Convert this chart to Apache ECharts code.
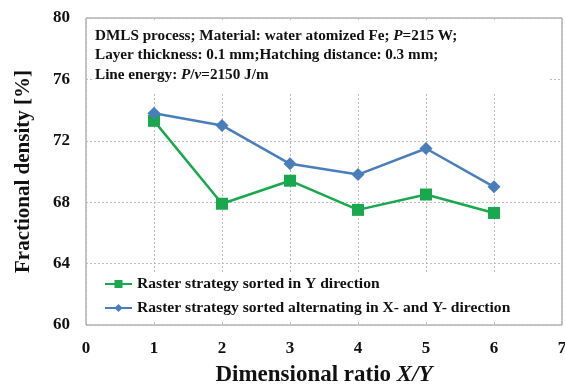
<!DOCTYPE html>
<html>
<head>
<meta charset="utf-8">
<script src="https://cdn.jsdelivr.net/npm/echarts@6/dist/echarts.min.js"></script>
<style>
  html, body { margin: 0; padding: 0; background: #fff; }
  #chart { width: 565px; height: 388px; }
</style>
</head>
<body>
<div id="chart"></div>
<script>
const ratios = [1, 2, 3, 4, 5, 6];
const sortedY = [73.3, 67.9, 69.4, 67.5, 68.5, 67.3];
const alternating = [73.8, 73.0, 70.5, 69.8, 71.5, 69.0];
const seriesNames = [
  "Raster strategy sorted in Y direction",
  "Raster strategy sorted alternating in X- and Y- direction"
];

const serif = "Liberation Serif";
const green = "#1aa84f";
const blue = "#4a7ebb";

const chart = echarts.init(document.getElementById("chart"));

const gridLine = { show: true, lineStyle: { color: "#bcbcbc", type: [2, 2], width: 1 } };

chart.setOption({
  backgroundColor: "#fff",
  animation: false,
  grid: {
    left: 86, right: 3, top: 18, bottom: 63,
    outerBoundsMode: "none",
    show: true, borderColor: "#8c8c8c", borderWidth: 1
  },
  xAxis: {
    type: "value",
    min: 0,
    max: 7,
    interval: 1,
    axisLine: { show: false },
    axisTick: { show: false },
    splitLine: gridLine,
    axisLabel: { fontFamily: serif, fontWeight: "bold", fontSize: 17, color: "#111", margin: 15 },
    name: "{n|Dimensional ratio }{i|X/Y}",
    nameLocation: "middle",
    nameGap: 39,
    nameTextStyle: {
      rich: {
        n: { fontFamily: serif, fontWeight: "bold", fontSize: 23, color: "#111" },
        i: { fontFamily: serif, fontWeight: "bold", fontStyle: "italic", fontSize: 23, color: "#111" }
      }
    }
  },
  yAxis: {
    type: "value",
    min: 60,
    max: 80,
    interval: 4,
    axisLine: { show: false },
    axisTick: { show: false },
    splitLine: gridLine,
    axisLabel: { fontFamily: serif, fontWeight: "bold", fontSize: 17, color: "#111", margin: 16 },
    name: "Fractional density [%]",
    nameLocation: "middle",
    nameGap: 52,
    nameTextStyle: { fontFamily: serif, fontWeight: "bold", fontSize: 21, color: "#111" }
  },
  legend: {
    orient: "vertical",
    left: 99,
    top: 271,
    itemGap: 8,
    itemWidth: 27,
    itemHeight: 10,
    textStyle: { fontFamily: serif, fontSize: 15.6, color: "#111", fontWeight: "bold" },
    data: seriesNames
  },
  graphic: [
    {
      // white box behind the annotation
      type: "rect",
      z: 10,
      shape: { x: 93, y: 21, width: 455, height: 71 },
      style: { fill: "#fff" }
    },
    {
      type: "text",
      z: 11,
      left: 95,
      top: 26,
      style: {
        text: "{b|DMLS process; Material: water atomized Fe; }{i|P}{b|=215 W;}\n" +
              "{b|Layer thickness: 0.1 mm;Hatching distance: 0.3 mm;}\n" +
              "{b|Line energy: }{i|P}{b|/}{i|v}{b|=2150 J/m}",
        lineHeight: 19.5,
        rich: {
          b: { fontFamily: serif, fontWeight: "bold", fontSize: 15.2, fill: "#111", lineHeight: 19.5 },
          i: { fontFamily: serif, fontWeight: "bold", fontStyle: "italic", fontSize: 15.2, fill: "#111", lineHeight: 19.5 }
        }
      }
    },
    {
      // white box behind the legend
      type: "rect",
      z: 3,
      shape: { x: 87, y: 272, width: 474, height: 50 },
      style: { fill: "#fff" }
    }
  ],
  series: [
    {
      name: seriesNames[0],
      type: "line",
      data: ratios.map((x, i) => [x, sortedY[i]]),
      symbol: "rect",
      symbolSize: 12,
      lineStyle: { color: green, width: 2.5 },
      itemStyle: { color: green }
    },
    {
      name: seriesNames[1],
      type: "line",
      data: ratios.map((x, i) => [x, alternating[i]]),
      symbol: "diamond",
      symbolSize: 13,
      lineStyle: { color: blue, width: 2.5 },
      itemStyle: { color: blue }
    }
  ]
});
</script>
</body>
</html>
